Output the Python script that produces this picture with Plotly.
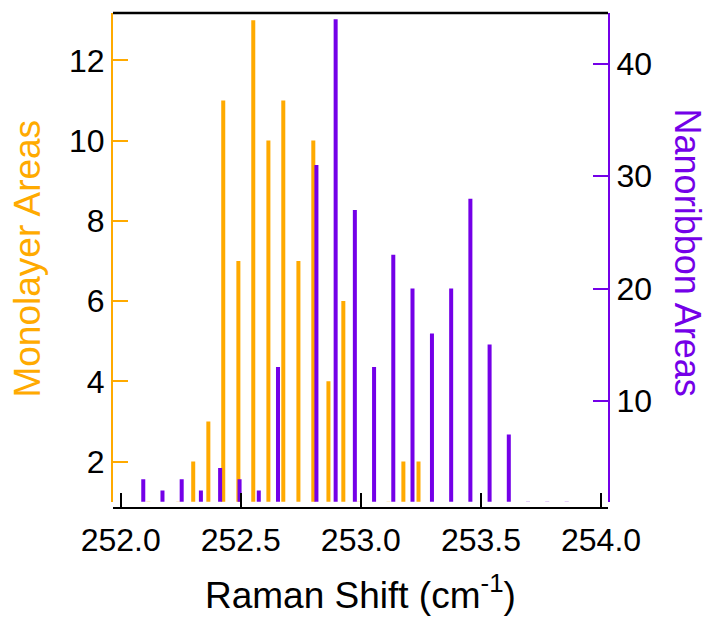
import plotly.graph_objects as go

# Raman shift bin centres (cm^-1) and counts
shift_mono = [252.115, 252.177, 252.240, 252.302, 252.365, 252.427, 252.490,
              252.552, 252.615, 252.677, 252.740, 252.802, 252.865, 252.927,
              252.990, 253.052, 253.115, 253.177, 253.240]
areas_mono = [1, 0, 1, 2, 3, 11, 7, 13, 10, 11, 7, 10, 4, 6, 1, 0, 1, 2, 2]

shift_nano = [252.094, 252.174, 252.254, 252.334, 252.414, 252.495, 252.575,
              252.655, 252.735, 252.815, 252.895, 252.975, 253.055, 253.135,
              253.215, 253.296, 253.376, 253.456, 253.536, 253.616, 253.696,
              253.776, 253.857]
areas_nano = [3, 2, 3, 2, 4, 3, 2, 13, 0, 31, 44, 27, 13, 23, 20, 16, 20, 28,
              15, 7, 1, 1, 1]

x_ticks = [252.0, 252.5, 253.0, 253.5, 254.0]
x_tick_labels = ["252.0", "252.5", "253.0", "253.5", "254.0"]
mono_ticks = [2, 4, 6, 8, 10, 12]
nano_ticks = [10, 20, 30, 40]

ORANGE = "#FFAA00"
PURPLE = "#7400E8"
FONT = "Liberation Sans, Arial, sans-serif"
DOM = [0.0127, 1]

fig = go.Figure()
fig.add_trace(go.Bar(x=shift_mono, y=areas_mono, width=0.0167,
                     marker=dict(color=ORANGE, line=dict(width=0)), yaxis="y"))
fig.add_trace(go.Bar(x=shift_nano, y=areas_nano, width=0.0167,
                     marker=dict(color=PURPLE, line=dict(width=0)), yaxis="y2"))

fig.update_layout(
    width=712, height=617,
    margin=dict(l=113, r=104, t=13, b=109),
    barmode="overlay", showlegend=False,
    plot_bgcolor="white", paper_bgcolor="white",
    font=dict(family=FONT, size=32, color="black"),
    xaxis=dict(range=[251.968, 254.029], anchor="free", position=0,
               tickvals=x_ticks, ticktext=x_tick_labels,
               ticks="inside", ticklen=14, tickwidth=2, tickcolor="black",
               ticklabelstandoff=4,
               showline=True, linecolor="black", linewidth=2,
               showgrid=False, zeroline=False),
    yaxis=dict(domain=DOM, range=[1, 13.18], tickvals=mono_ticks,
               ticks="inside", ticklen=15, tickwidth=2, tickcolor=ORANGE,
               showline=True, linecolor=ORANGE, linewidth=2,
               showgrid=False, zeroline=False),
    yaxis2=dict(domain=DOM, overlaying="y", side="right", range=[1, 44.55],
                tickvals=nano_ticks,
                ticks="inside", ticklen=15, tickwidth=2, tickcolor=PURPLE,
                showline=True, linecolor=PURPLE, linewidth=2,
                showgrid=False, zeroline=False),
    shapes=[dict(type="line", xref="paper", yref="paper", x0=0, x1=1, y0=1, y1=1,
                 line=dict(color="black", width=2.5))],
    annotations=[
        dict(text="Monolayer Areas", xref="paper", yref="paper", x=-0.1717, y=0.504,
             textangle=-90, showarrow=False, font=dict(size=37, color=ORANGE),
             xanchor="center", yanchor="middle"),
        dict(text="Nanoribbon Areas", xref="paper", yref="paper", x=1.1596, y=0.516,
             textangle=90, showarrow=False, font=dict(size=36, color=PURPLE),
             xanchor="center", yanchor="middle"),
        dict(text="Raman Shift (cm<sup>-1</sup>)", xref="paper", yref="paper",
             x=0.5, y=-0.17, showarrow=False, font=dict(size=37, color="black"),
             xanchor="center", yanchor="middle"),
    ],
)

fig.write_html("out.html")
